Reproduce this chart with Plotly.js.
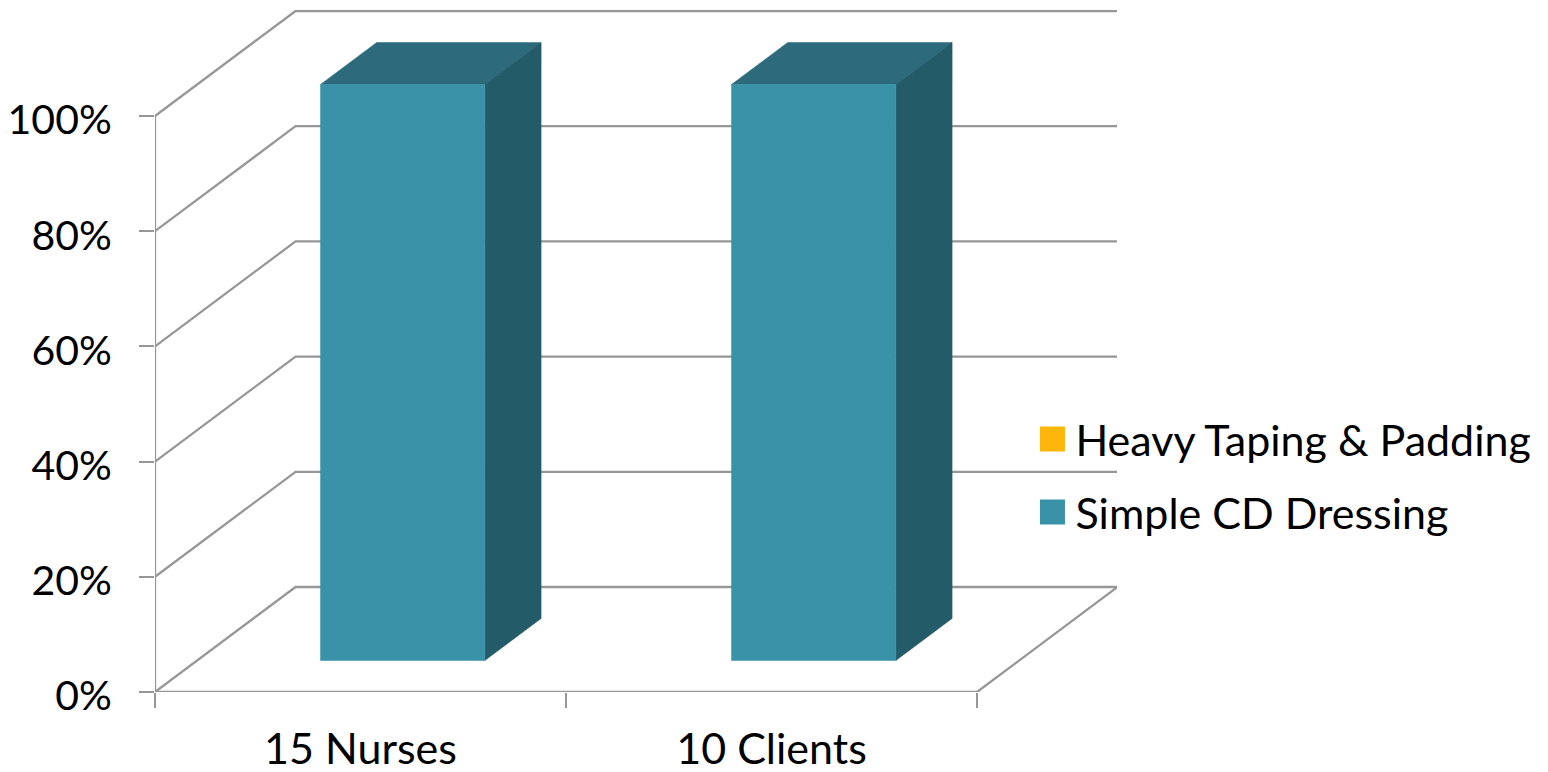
<!DOCTYPE html>
<html>
<head>
<meta charset="utf-8">
<script src="https://cdn.plot.ly/plotly-3.0.1.min.js"></script>
<style>html,body{margin:0;padding:0;background:#fff}</style>
</head>
<body>
<div id="chart" style="width:1548px;height:772px"></div>
<script>
// Chart values
const categories = ["15 Nurses", "10 Clients"];
const heavyTaping = [0, 0];
const simpleDressing = [100, 100];
const percentTicks = [0, 20, 40, 60, 80, 100];

// Oblique projection of the 3D box: one unit of depth shifts a point by these data amounts
const skewX = 0.342;
const skewY = 18.23;
// Bars sit in the middle of their category slot and in the middle of the depth
const barStart = 0.3, barEnd = 0.7, depthStart = 0.3, depthEnd = 0.7;

const gridColor = "#979797";
const frontColor = "#3a92a9", topColor = "#2c6a7c", sideColor = "#245b69", heavyColor = "#ffb60a";
const fontFamily = "Lato, 'Open Sans', sans-serif";

const project = (cat, pct, depth) => [cat + depth * skewX, pct + depth * skewY];

function polygon(points, color) {
  const xy = points.map(p => project(p[0], p[1], p[2]));
  xy.push(xy[0]);
  return {
    type: "scatter", mode: "lines", fill: "toself", fillcolor: color,
    x: xy.map(p => p[0]), y: xy.map(p => p[1]),
    line: {width: 0.5, color: color}, hoverinfo: "skip", showlegend: false, cliponaxis: false
  };
}

function wireframe() {
  const xs = [], ys = [];
  const addPath = pts => {
    pts.forEach(p => { const q = project(p[0], p[1], p[2]); xs.push(q[0]); ys.push(q[1]); });
    xs.push(null); ys.push(null);
  };
  const slots = categories.length;
  // wall diagonals and back-wall gridlines
  percentTicks.forEach(t => addPath([[0, t, 0], [0, t, 1], [slots, t, 1]]));
  // front axes and the right edge of the floor
  addPath([[0, percentTicks[percentTicks.length - 1], 0], [0, 0, 0], [slots, 0, 0], [slots, 0, 1]]);
  return {
    type: "scatter", mode: "lines", x: xs, y: ys,
    line: {color: gridColor, width: 2.3}, hoverinfo: "skip", showlegend: false, cliponaxis: false
  };
}

function barFaces(i, base, top) {
  const l = i + barStart, r = i + barEnd, d0 = depthStart, d1 = depthEnd;
  return [
    polygon([[l, top, d0], [r, top, d0], [r, top, d1], [l, top, d1]], topColor),
    polygon([[r, base, d0], [r, base, d1], [r, top, d1], [r, top, d0]], sideColor),
    polygon([[l, base, d0], [r, base, d0], [r, top, d0], [l, top, d0]], frontColor)
  ];
}

const legendEntry = (name, color) => ({
  type: "scatter", mode: "markers", name: name, legendgroup: name,
  x: [null], y: [null],
  marker: {symbol: "square", size: 16, color: color, line: {width: 0}}
});

const traces = [wireframe()];
categories.forEach((c, i) => {
  // the heavy-taping segment has zero height, so only the dressing segment shows
  if (simpleDressing[i] > 0) traces.push(...barFaces(i, heavyTaping[i], heavyTaping[i] + simpleDressing[i]));
});
traces.push(legendEntry("Heavy Taping & Padding", heavyColor));
traces.push(legendEntry("Simple CD Dressing", frontColor));

const layout = {
  width: 1548, height: 772, autosize: false,
  margin: {l: 155, r: 431, t: 10, b: 80, pad: 0},
  paper_bgcolor: "#fff", plot_bgcolor: "rgba(0,0,0,0)",
  font: {family: fontFamily, color: "#000", size: 42},
  showlegend: true,
  legend: {
    x: 0.909, xref: "paper", xanchor: "left", y: 0.3174, yanchor: "middle",
    traceorder: "grouped", tracegroupgap: 14, itemsizing: "trace", itemwidth: 36,
    bgcolor: "rgba(0,0,0,0)", borderwidth: 0, font: {family: fontFamily, size: 43}
  },
  xaxis: {
    range: [0, 2.3406], showgrid: false, zeroline: false, showline: false,
    tickmode: "array", tickvals: categories.map((c, i) => i + 0.5), ticktext: categories,
    ticks: "", ticklabelstandoff: 28, fixedrange: true,
    tickfont: {family: fontFamily, size: 43},
    minor: {tickmode: "array", tickvals: categories.map((c, i) => i).concat(categories.length),
            ticks: "outside", ticklen: 15, tickwidth: 2, tickcolor: gridColor, showgrid: false}
  },
  yaxis: {
    range: [0, 118.4], showgrid: false, zeroline: false, showline: false,
    tickmode: "array", tickvals: percentTicks, ticktext: percentTicks.map(t => t + "%"),
    ticks: "outside", ticklen: 15, tickwidth: 2, tickcolor: gridColor,
    ticklabelstandoff: 19, ticklabelshift: 4, fixedrange: true,
    tickfont: {family: fontFamily, size: 41}
  }
};

Plotly.newPlot("chart", traces, layout, {displayModeBar: false, staticPlot: true}).then(() => {
  // Legend swatches are capped at 16px by the library; widen them to the chart's 25px squares
  document.querySelectorAll(".legend .scatterpts").forEach(p => p.setAttribute("d", "M12.5,12.5H-12.5V-12.5H12.5Z"));
});
</script>
</body>
</html>
